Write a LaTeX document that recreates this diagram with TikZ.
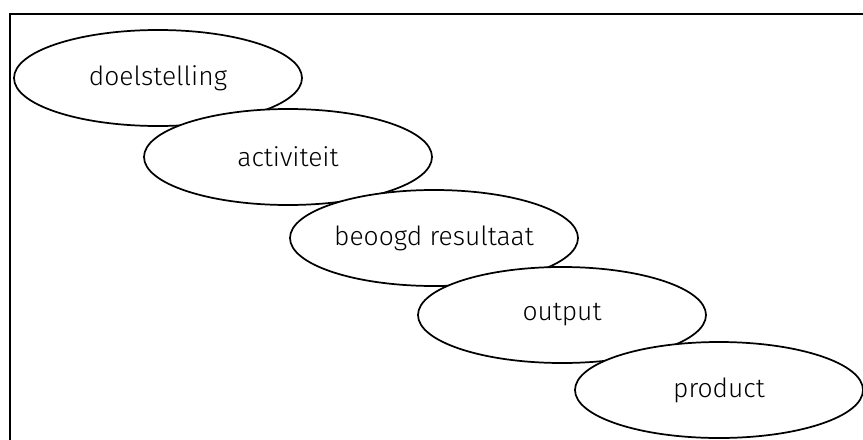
\documentclass[tikz,border=0pt]{standalone}
\usepackage{fontspec}
\setmainfont{Fira Sans}[UprightFont=* Light]
\usetikzlibrary{shapes.geometric}
\tikzset{
  stap/.style={draw,ellipse,fill=white,line width=1.3pt,inner sep=0pt,
    minimum width=216pt,minimum height=72pt,font=\fontsize{19.8}{23}\selectfont}
}
\begin{document}
\begin{tikzpicture}[x=0.75pt,y=-0.75pt]
			\useasboundingbox (0,0) rectangle (863,439);
			\draw [line width=1.3pt] (10,14) rectangle (880,460);
			
			\node [stap] (doel) at (158,78) {doelstelling};
			\node [stap] (act) at (288,157) {activiteit};
			\node [stap] (res) at (434,238) {beoogd resultaat};
			\node [stap] (out) at (562,315) {output};
			\node [stap] (prod) at (719,390) {product};
		\end{tikzpicture}
\end{document}
